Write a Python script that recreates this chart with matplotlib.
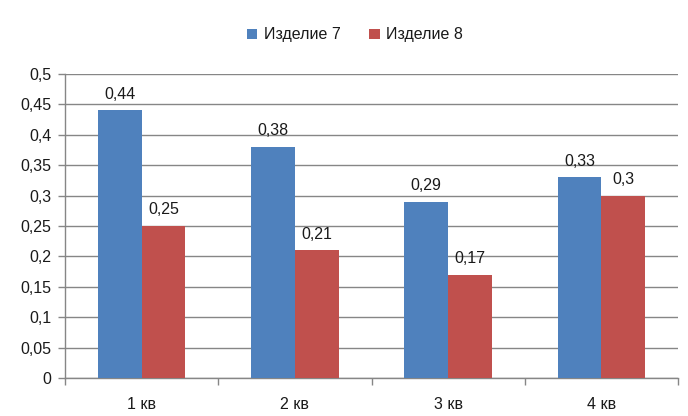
import numpy as np
import matplotlib

matplotlib.use("Agg")
import matplotlib.pyplot as plt
from matplotlib.ticker import FuncFormatter, MultipleLocator

plt.rcParams["font.family"] = ["Liberation Sans", "DejaVu Sans"]

quarters = ["1 кв", "2 кв", "3 кв", "4 кв"]
series_names = ["Изделие 7", "Изделие 8"]
product7 = [0.44, 0.38, 0.29, 0.33]
product8 = [0.25, 0.21, 0.17, 0.30]
colors = ["#4F81BD", "#C0504D"]


def comma(v):
    s = f"{v:.2f}".rstrip("0").rstrip(".")
    return s.replace(".", ",")


fig = plt.figure(figsize=(6.88, 4.16), dpi=100)
ax = fig.add_axes([0.0945, 0.0913, 0.891, 0.731])

x = np.arange(len(quarters))
width = 1 / 3.5
grid_col = "#868686"
text_col = "#1a1a1a"
fs = 11.5

for i, (vals, name) in enumerate(zip([product7, product8], series_names)):
    pos = x + (i - 0.5) * width
    bars = ax.bar(pos, vals, width, color=colors[i], label=name, zorder=3)
    for b, v in zip(bars, vals):
        ax.text(b.get_x() + b.get_width() / 2, v + 0.014, comma(v),
                ha="center", va="bottom", fontsize=fs, color=text_col, zorder=4)

ax.set_xlim(-0.5, len(quarters) - 0.5)
ax.set_ylim(0, 0.5)
ax.yaxis.set_major_locator(MultipleLocator(0.05))
ax.yaxis.set_major_formatter(FuncFormatter(lambda v, p: comma(v)))
ax.yaxis.grid(True, color=grid_col, linewidth=1, zorder=0)

# category labels in the middle, tick marks on the boundaries
ax.set_xticks(x)
ax.set_xticklabels(quarters)
ax.set_xticks(np.arange(-0.5, len(quarters)), minor=True)
ax.tick_params(axis="x", which="major", length=0, pad=14, labelsize=fs, labelcolor=text_col)
ax.tick_params(axis="x", which="minor", length=5, color=grid_col, width=1)
ax.tick_params(axis="y", length=5, color=grid_col, width=1, labelsize=fs,
               labelcolor=text_col, pad=5)

for side in ["top", "right"]:
    ax.spines[side].set_visible(False)
for side in ["left", "bottom"]:
    ax.spines[side].set_color(grid_col)
    ax.spines[side].set_linewidth(1)

ax.legend(loc="center", bbox_to_anchor=(0.473, 1.128), ncol=2, frameon=False,
          fontsize=fs, handlelength=0.65, handleheight=0.65, handletextpad=0.4,
          columnspacing=1.8, labelcolor=text_col)

fig.savefig("out.png", dpi=100)
